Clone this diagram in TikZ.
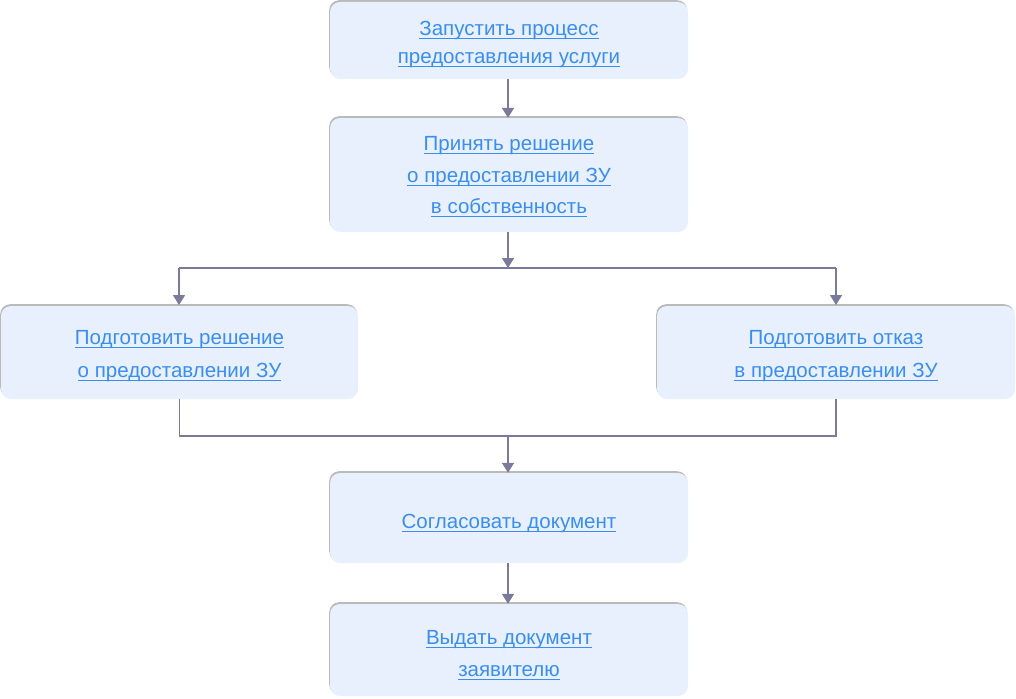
\documentclass[tikz,border=0pt]{standalone}
\usepackage{fontspec}
\setmainfont{Liberation Sans}
\usetikzlibrary{arrows.meta,shadows}
\definecolor{boxfill}{HTML}{E8F0FD}
\definecolor{txt}{HTML}{3A8EF0}
\definecolor{lnk}{HTML}{7B7A9A}
\newcommand\ulx[1]{\setbox0\hbox{#1}\rlap{\rule[-3.5pt]{\wd0}{1pt}}\box0}
\begin{document}
\begin{tikzpicture}[x=1pt,y=-1pt,
  box/.style={draw=none,fill=boxfill,rounded corners=10pt,
    general shadow={fill=black!45,opacity=0.6,shadow yshift=1.8pt,shadow xshift=-0.8pt},
    minimum width=358pt},
  lbl/.style={text=txt,font=\fontsize{20.5}{#1}\selectfont,align=center,inner sep=0pt},
  lbl/.default=31,
  conn/.style={draw=lnk,line width=1.6pt},
  arr/.style={conn,-{Triangle[width=12pt,length=10pt]}}]
\useasboundingbox (0,0) rectangle (1016,698);
\node[box,minimum height=77pt] (b1) at (509,40.5) {};
\node[box,minimum height=114pt] (b2) at (509,175) {};
\node[box,minimum width=357pt,minimum height=93pt] (b3) at (179.5,352.5) {};
\node[box,minimum height=93pt] (b4) at (836,352.5) {};
\node[box,minimum height=90pt] (b5) at (509,518) {};
\node[box,minimum height=92pt] (b6) at (509,650) {};
\node[lbl=28.5] (t1) at ([yshift=-4pt]b1.center) {\ulx{Запустить процесс}\\\ulx{предоставления услуги}};
\node[lbl=31.5] (t2) at ([yshift=-2pt]b2.center) {\ulx{Принять решение}\\\ulx{о предоставлении ЗУ}\\\ulx{в собственность}};
\node[lbl=32.5] (t3) at ([yshift=-3.5pt]b3.center) {\ulx{Подготовить решение}\\\ulx{о предоставлении ЗУ}};
\node[lbl=32.5] (t4) at ([yshift=-3.5pt]b4.center) {\ulx{Подготовить отказ}\\\ulx{в предоставлении ЗУ}};
\node[lbl] (t5) at ([yshift=-5pt]b5.center) {\ulx{Согласовать документ}};
\node[lbl=32] (t6) at ([yshift=-5.5pt]b6.center) {\ulx{Выдать документ}\\\ulx{заявителю}};
\coordinate (s) at (508,268);
\coordinate (j) at (508,436);
\draw[arr] (b1.south -| s) -- (b2.north -| s);
\draw[arr] (b2.south -| s) -- (s);
\draw[conn] (179,268) -- (836,268);
\draw[arr] (179,268) -- (179,305);
\draw[arr] (836,268) -- (836,305);
\draw[conn] (b3.south) -- (b3.south |- j) -- (b4.south |- j) -- (b4.south);
\draw[arr] (j) -- (b5.north -| j);
\draw[arr] (b5.south -| s) -- (b6.north -| s);
\end{tikzpicture}
\end{document}
